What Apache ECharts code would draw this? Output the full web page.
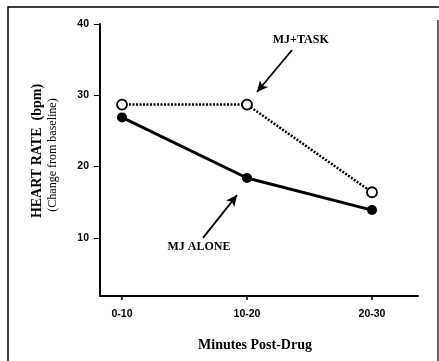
<!DOCTYPE html>
<html>
<head>
<meta charset="utf-8">
<script src="https://cdn.jsdelivr.net/npm/echarts@6/dist/echarts.min.js"></script>
<style>
  html, body { margin: 0; padding: 0; background: #fff; }
  #chart { width: 439px; height: 361px; }
</style>
</head>
<body>
<div id="chart"></div>
<script>
// Time windows after the drug was given
const categories = ['0-10', '10-20', '20-30'];
// Heart rate change from baseline (bpm)
const mjTask = [28.7, 28.7, 16.4];
const mjAlone = [26.9, 18.4, 13.9];
// Y tick values
const yTicks = [10, 20, 30, 40];
const xTicks = [0, 1, 2];

const serif = '"Liberation Serif", "DejaVu Serif", serif';
const sans = '"Liberation Sans", Arial, sans-serif';

const chart = echarts.init(document.getElementById('chart'));

const toPairs = arr => arr.map((v, i) => [i, v]);

chart.setOption({
  animation: false,
  backgroundColor: '#fff',
  grid: { left: 100, right: 21, top: 24, bottom: 65, containLabel: false },
  xAxis: {
    type: 'value',
    min: -0.176,
    max: 2.368,
    splitLine: { show: false },
    axisLine: { show: true, onZero: false, lineStyle: { color: '#000', width: 2 } },
    axisTick: { show: true, customValues: xTicks, length: 4, lineStyle: { color: '#000', width: 1.5 } },
    axisLabel: {
      customValues: xTicks,
      formatter: v => categories[Math.round(v)],
      color: '#000', fontFamily: sans, fontSize: 10.5, fontWeight: 'bold', margin: 13
    },
    name: 'Minutes Post-Drug',
    nameLocation: 'middle',
    nameGap: 42,
    nameTextStyle: { color: '#000', fontFamily: serif, fontSize: 14, fontWeight: 'bold', padding: [0, 8, 0, 0] }
  },
  yAxis: {
    type: 'value',
    min: 1.85,
    max: 40,
    splitLine: { show: false },
    axisLine: { show: true, onZero: false, lineStyle: { color: '#000', width: 2 } },
    axisTick: { show: true, customValues: yTicks, length: 6, lineStyle: { color: '#000', width: 1 } },
    axisLabel: {
      customValues: yTicks,
      color: '#000', fontFamily: sans, fontSize: 10.5, fontWeight: 'bold', margin: 11
    }
  },
  graphic: [
    // outer frame
    { type: 'polyline', shape: { points: [[8, 361], [8, 7], [439, 7]] },
      style: { stroke: '#000', lineWidth: 1.5, fill: null } },
    { type: 'line', shape: { x1: 438, y1: 20, x2: 438, y2: 361 },
      style: { stroke: '#000', lineWidth: 1.2 } },
    // y axis titles
    { type: 'text', x: 37, y: 151, rotation: Math.PI / 2,
      style: { text: 'HEART RATE  (bpm)', font: 'bold 14px ' + serif, fill: '#000',
               align: 'center', verticalAlign: 'middle' } },
    { type: 'text', x: 53, y: 155, rotation: Math.PI / 2,
      style: { text: '(Change from baseline)', font: '12px ' + serif, fill: '#000',
               align: 'center', verticalAlign: 'middle' } }
  ],
  series: [
    {
      name: 'MJ+TASK',
      type: 'line',
      data: toPairs(mjTask),
      symbol: 'circle',
      symbolSize: 10,
      z: 3,
      itemStyle: { color: '#fff', borderColor: '#000', borderWidth: 1.8 },
      lineStyle: { color: '#000', width: 2.5, type: [2, 1.5] },
      markLine: {
        silent: true,
        symbol: ['none', 'arrow'],
        symbolSize: [8, 11],
        label: { show: false },
        lineStyle: { color: '#000', width: 1.8, type: 'solid' },
        data: [[{ coord: [1.36, 36.35] }, { coord: [1.08, 30.46] }]]
      },
      markPoint: {
        symbol: 'rect', symbolSize: 1, itemStyle: { color: 'transparent' },
        label: { show: true, formatter: 'MJ+TASK', color: '#000', fontFamily: serif,
                 fontSize: 12, fontWeight: 'bold', position: 'inside' },
        data: [{ coord: [1.43, 37.76] }]
      }
    },
    {
      name: 'MJ ALONE',
      type: 'line',
      data: toPairs(mjAlone),
      symbol: 'circle',
      symbolSize: 10,
      z: 4,
      itemStyle: { color: '#000', borderColor: '#000', borderWidth: 0 },
      lineStyle: { color: '#000', width: 3 },
      markLine: {
        silent: true,
        symbol: ['none', 'arrow'],
        symbolSize: [8, 11],
        label: { show: false },
        lineStyle: { color: '#000', width: 1.8, type: 'solid' },
        data: [[{ coord: [0.648, 10.0] }, { coord: [0.92, 16.0] }]]
      },
      markPoint: {
        symbol: 'rect', symbolSize: 1, itemStyle: { color: 'transparent' },
        label: { show: true, formatter: 'MJ ALONE', color: '#000', fontFamily: serif,
                 fontSize: 12, fontWeight: 'bold', position: 'inside' },
        data: [{ coord: [0.616, 8.72] }]
      }
    }
  ]
});
</script>
</body>
</html>
